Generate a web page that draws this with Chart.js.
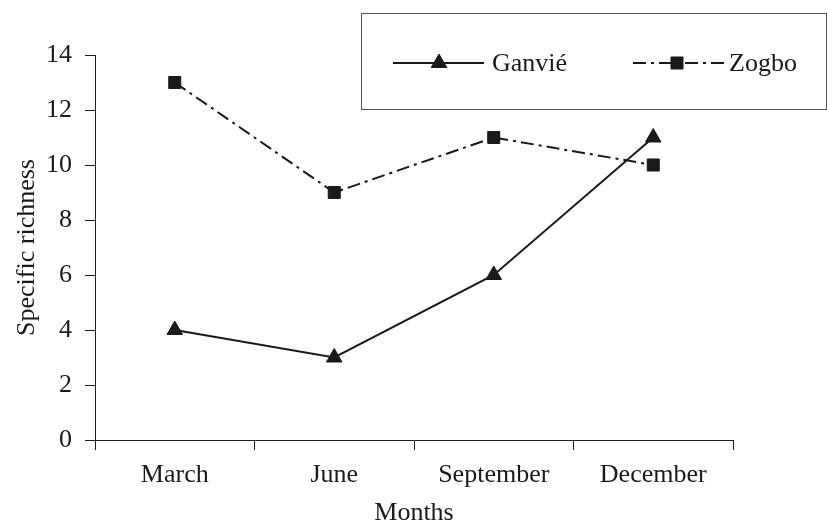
<!DOCTYPE html>
<html>
<head>
<meta charset="utf-8">
<title>Specific richness by month</title>
<script src="https://cdn.jsdelivr.net/npm/chart.js@4/dist/chart.umd.min.js"></script>
<style>
  html, body { margin: 0; padding: 0; background: #fff; }
  #wrap { width: 827px; height: 525px; }
</style>
</head>
<body>
<div id="wrap"><canvas id="chart" width="827" height="525"></canvas></div>
<script>
// Sampling months and species counts per site
const months = ['March', 'June', 'September', 'December'];
const ganvie = [4, 3, 6, 11];
const zogbo = [13, 9, 11, 10];
const yTicks = [0, 2, 4, 6, 8, 10, 12, 14];

const INK = '#1a1a1a';
const SERIF = '"Liberation Serif", "Times New Roman", serif';
const FONT = { family: SERIF, size: 26 };

// Boxed legend drawn over the upper-right corner of the plot
const boxedLegend = {
  id: 'boxedLegend',
  afterDraw(chart) {
    const ctx = chart.ctx;
    const box = { x: 361.5, y: 13.5, w: 465, h: 96 };
    ctx.save();
    ctx.fillStyle = '#fff';
    ctx.fillRect(box.x, box.y, box.w, box.h);
    ctx.strokeStyle = '#555';
    ctx.lineWidth = 1;
    ctx.strokeRect(box.x, box.y, box.w, box.h);

    const rowY = 63;
    const items = [
      { ds: chart.data.datasets[0], x0: 393, x1: 484, mark: 439, textX: 492 },
      { ds: chart.data.datasets[1], x0: 633, x1: 724, mark: 677, textX: 729 }
    ];
    items.forEach(it => {
      ctx.strokeStyle = it.ds.borderColor;
      ctx.lineWidth = 2;
      ctx.setLineDash(it.ds.borderDash || []);
      ctx.beginPath();
      ctx.moveTo(it.x0, rowY);
      ctx.lineTo(it.x1, rowY);
      ctx.stroke();
      ctx.setLineDash([]);
      ctx.fillStyle = it.ds.pointBackgroundColor;
      ctx.strokeStyle = it.ds.pointBorderColor;
      ctx.lineWidth = 1;
      Chart.helpers.drawPoint(ctx, {
        pointStyle: it.ds.pointStyle,
        radius: it.ds.pointRadius,
        borderWidth: 1
      }, it.mark, rowY);
      ctx.fillStyle = INK;
      ctx.font = '26px ' + SERIF;
      ctx.textBaseline = 'alphabetic';
      ctx.textAlign = 'left';
      ctx.fillText(it.ds.label, it.textX, rowY + 8);
    });
    ctx.restore();
  }
};

new Chart(document.getElementById('chart'), {
  type: 'line',
  data: {
    labels: months,
    datasets: [
      {
        label: 'Ganvié',
        data: ganvie,
        borderColor: INK,
        backgroundColor: INK,
        borderWidth: 2,
        pointStyle: 'triangle',
        pointRadius: 9,
        pointBackgroundColor: INK,
        pointBorderColor: INK,
        pointBorderWidth: 1,
        tension: 0
      },
      {
        label: 'Zogbo',
        data: zogbo,
        borderColor: INK,
        backgroundColor: INK,
        borderWidth: 2,
        borderDash: [13, 5, 3, 5],
        pointStyle: 'rect',
        pointRadius: 8.5,
        pointBackgroundColor: INK,
        pointBorderColor: INK,
        pointBorderWidth: 1,
        tension: 0
      }
    ]
  },
  options: {
    responsive: false,
    animation: false,
    devicePixelRatio: 1,
    layout: { padding: { top: 55, right: 94, left: 0, bottom: 0 } },
    plugins: {
      legend: { display: false },
      tooltip: { enabled: false }
    },
    scales: {
      x: {
        type: 'category',
        offset: true,
        grid: {
          offset: true,
          drawOnChartArea: false,
          drawTicks: true,
          tickLength: 10,
          color: INK,
          lineWidth: 1
        },
        border: { display: true, color: INK, width: 1 },
        ticks: { font: FONT, color: INK, padding: 10, maxRotation: 0 },
        title: {
          display: true,
          text: 'Months',
          font: { family: SERIF, size: 26, lineHeight: 0.9 },
          color: INK,
          padding: { top: 0, bottom: 0 }
        },
        afterFit(scale) { scale.height = 85; }
      },
      y: {
        min: 0,
        max: 14,
        afterBuildTicks(scale) { scale.ticks = yTicks.map(v => ({ value: v })); },
        grid: {
          drawOnChartArea: false,
          drawTicks: true,
          tickLength: 10,
          color: INK,
          lineWidth: 1
        },
        border: { display: true, color: INK, width: 1 },
        ticks: { font: FONT, color: INK, padding: 13 },
        title: {
          display: true,
          text: 'Specific richness',
          font: FONT,
          color: INK,
          padding: { top: 12, bottom: 0 }
        },
        afterFit(scale) { scale.width = 95; }
      }
    }
  },
  plugins: [boxedLegend]
});
</script>
</body>
</html>
